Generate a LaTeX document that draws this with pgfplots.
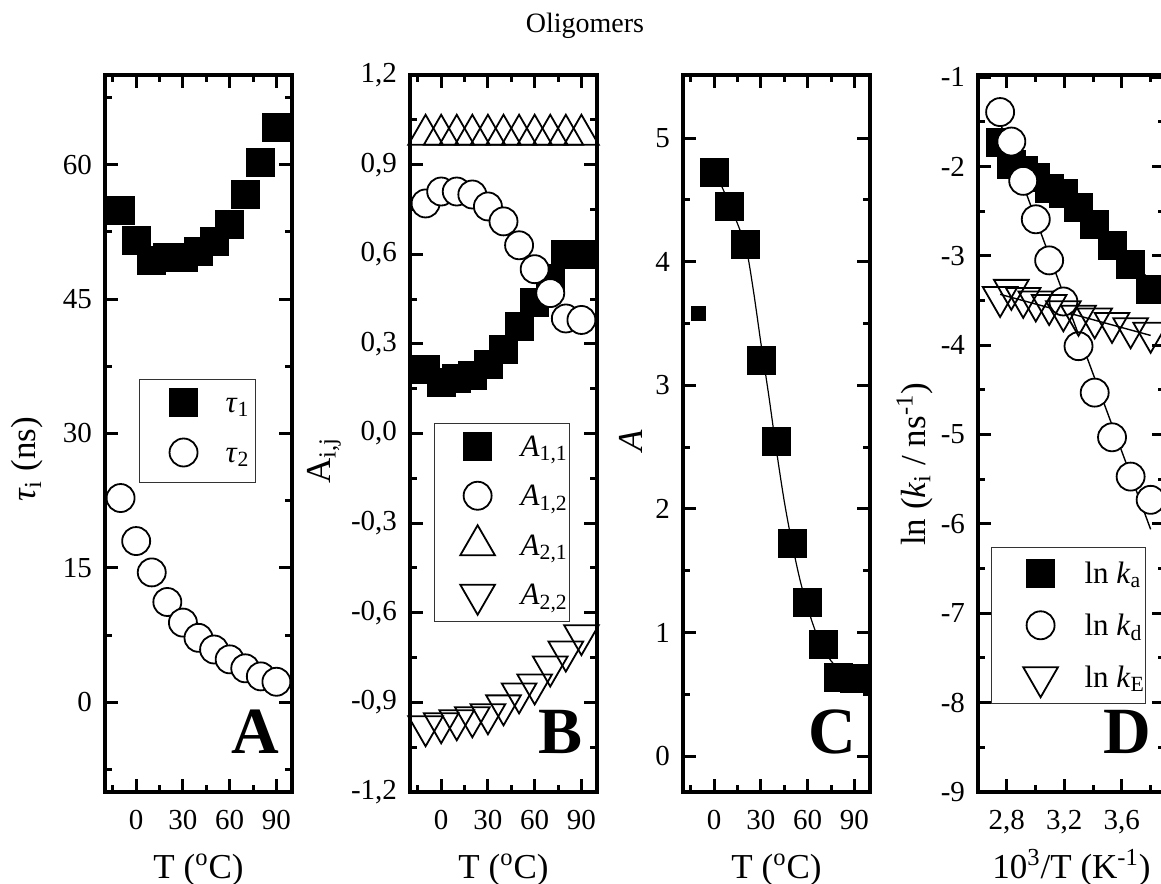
\documentclass[border=0pt]{standalone}
\usepackage{fontspec}
\setmainfont{Liberation Serif}
\usepackage{pgfplots}
\pgfplotsset{compat=1.18}
\tikzset{bigletter/.style={anchor=base east, inner sep=0pt, font=\fontsize{33}{33}\selectfont\bfseries}}
\pgfplotsset{
  panel/.style={
    scale only axis, width=93.5pt, height=358.5pt,
    anchor=south west,
    axis line style={line width=2pt},
    every tick/.style={black, line width=1.5pt},
    major tick length=6.5pt, minor tick length=3.5pt,
    tick align=inside,
    axis on top,
    /pgf/number format/assume math mode=true,
    ticklabel style={font=\fontsize{14.5}{14.5}\selectfont},
    xticklabel shift=5.5pt, yticklabel shift=3pt,
    label style={font=\fontsize{17.5}{17.5}\selectfont},
    xlabel style={at={(axis description cs:0.5,-0.12)}, anchor=base},
    xmin=-20, xmax=100,
    legend style={draw=black!80, line width=0.5pt, fill=white,
      inner xsep=0pt, row sep=0pt, column sep=0pt,
      cells={anchor=base west},
      font=\fontsize{15.5}{15.5}\selectfont},
  },
  sq/.style={only marks, mark=square*, mark size=7pt, black},
  ci/.style={only marks, mark=*, mark size=7pt, black, line width=0.9pt, mark options={fill=white}},
  tu/.style={only marks, mark=triangle, mark size=10pt, black, line width=0.9pt, mark options={fill=white}},
  td/.style={only marks, mark=triangle, mark size=10pt, black, line width=0.9pt, mark options={fill=white, rotate=180}},
}
\begin{document}
\begin{tikzpicture}
\begin{scope}
\clip (0,0) rectangle (580.5pt,441.5pt);
% ---------------- Panel A
\begin{axis}[panel, at={(52.5pt,45.5pt)},
  ymin=-10, ymax=70,
  xtick={0,30,60,90}, minor xtick={-15,15,45,75},
  ytick={0,15,30,45,60}, minor ytick={-7.5,7.5,22.5,37.5,52.5,67.5},
  xlabel={T (\textsuperscript{o}C)},
  ylabel={\textit{τ}\textsubscript{i} (ns)},
  ylabel style={at={(axis description cs:-0.414,0.464)}, anchor=center},
  legend style={at={(axis description cs:0.182,0.576)}, anchor=north west, inner ysep=0.75pt,
    nodes={inner xsep=3pt, inner ysep=0pt, text height=15.75pt, text depth=9.25pt}},
  legend image code/.code={\path[draw=none,fill=none] (0pt,-9.25pt) rectangle (40pt,15.75pt); \draw[mark repeat=1,#1] plot coordinates {(22pt,5pt)};},
]
\addplot[sq] coordinates {(-10,54.9) (0,51.5) (10,49.3) (20,49.6) (30,49.6) (40,50.3) (50,51.45) (60,53.3) (70,56.7) (80,60.2) (90,64.1)};
\addlegendentry{\textit{τ}\textsubscript{1}}
\addplot[ci] coordinates {(-10,22.8) (0,18.0) (10,14.5) (20,11.2) (30,8.9) (40,7.2) (50,5.9) (60,4.8) (70,3.8) (80,2.9) (90,2.3)};
\addlegendentry{\textit{τ}\textsubscript{2}}
\node[bigletter] at (rel axis cs:0.936,0.054) {A};
\end{axis}
% ---------------- Panel B
\begin{axis}[panel, at={(205pt,45.5pt)},
  ymin=-1.2, ymax=1.2,
  xtick={0,30,60,90}, minor xtick={-15,15,45,75},
  ytick={-1.2,-0.9,-0.6,-0.3,0,0.3,0.6,0.9,1.2},
  yticklabels={{-1,2},{-0,9},{-0,6},{-0,3},{0,0},{0,3},{0,6},{0,9},{1,2}},
  minor ytick={-1.05,-0.75,-0.45,-0.15,0.15,0.45,0.75,1.05},
  xlabel={T (\textsuperscript{o}C)},
  ylabel={A\textsubscript{i,j}},
  ylabel style={at={(axis description cs:-0.46,0.462)}, anchor=center},
  legend style={at={(axis description cs:0.129,0.515)}, anchor=north west, inner ysep=0pt,
    nodes={inner xsep=1pt, inner ysep=0pt, text height=16.5pt, text depth=8.25pt}},
  legend image code/.code={\path[draw=none,fill=none] (0pt,-8.25pt) rectangle (42pt,16.5pt); \draw[mark repeat=1,#1] plot coordinates {(21.5pt,5pt)};},
]
\addplot[sq] coordinates {(-10,0.215) (0,0.17) (10,0.185) (20,0.195) (30,0.23) (40,0.28) (50,0.36) (60,0.44) (70,0.52) (80,0.60) (90,0.60)};
\addlegendentry{\textit{A}\textsubscript{1,1}}
\addplot[ci] coordinates {(-10,0.77) (0,0.81) (10,0.81) (20,0.80) (30,0.76) (40,0.71) (50,0.63) (60,0.55) (70,0.47) (80,0.385) (90,0.38)};
\addlegendentry{\textit{A}\textsubscript{1,2}}
\addplot[tu] coordinates {(-10,1.0) (0,1.0) (10,1.0) (20,1.0) (30,1.0) (40,1.0) (50,1.0) (60,1.0) (70,1.0) (80,1.0) (90,1.0)};
\addlegendentry{\textit{A}\textsubscript{2,1}}
\addplot[td] coordinates {(-10,-0.98) (0,-0.97) (10,-0.96) (20,-0.95) (30,-0.94) (40,-0.91) (50,-0.87) (60,-0.84) (70,-0.78) (80,-0.73) (90,-0.675)};
\addlegendentry{\textit{A}\textsubscript{2,2}}
\node[bigletter] at (rel axis cs:0.925,0.054) {B};
\end{axis}
% ---------------- Panel C
\begin{axis}[panel, at={(341.5pt,45.5pt)},
  ymin=-0.29, ymax=5.51,
  xtick={0,30,60,90}, minor xtick={-15,15,45,75},
  ytick={0,1,2,3,4,5}, minor ytick={0.5,1.5,2.5,3.5,4.5},
  xlabel={T (\textsuperscript{o}C)},
  ylabel={\textit{A}},
  ylabel style={at={(axis description cs:-0.277,0.49)}, anchor=center},
]
\addplot[black, line width=0.6pt, smooth] coordinates {(3,4.66) (10,4.46) (20,4.13) (25,3.78) (30,3.34) (35,2.92) (40,2.47) (45,2.06) (50,1.72) (55,1.43) (60,1.2) (65,1.01) (70,0.87) (75,0.77) (78,0.73)};
\addplot[sq] coordinates {(0,4.72) (10,4.45) (20,4.14) (30,3.20) (40,2.545) (50,1.72) (60,1.245) (70,0.90) (80,0.64) (90,0.63)};
\addplot[only marks, mark=square*, mark size=3.5pt, black] coordinates {(-10,3.58)};
\node[bigletter] at (rel axis cs:0.926,0.054) {C};
\end{axis}
% ---------------- Panel D
\begin{axis}[panel, at={(489pt,45.5pt)},
  xmin=2.6, xmax=3.9, ymin=-9, ymax=-0.975,
  xtick={2.8,3.2,3.6}, xticklabels={{2,8},{3,2},{3,6}}, minor xtick={3.0,3.4,3.8},
  ytick={-9,-8,-7,-6,-5,-4,-3,-2,-1}, yticklabels={-9,-8,-7,-6,-5,-4,-3,-2,-1},
  minor ytick={-8.5,-7.5,-6.5,-5.5,-4.5,-3.5,-2.5,-1.5},
  xlabel={10\textsuperscript{3}/T (K\textsuperscript{-1})},
  ylabel={ln (\textit{k}\textsubscript{i} / ns\textsuperscript{-1})},
  ylabel style={at={(axis description cs:-0.34,0.457)}, anchor=center},
  legend style={at={(axis description cs:0.07,0.342)}, anchor=north west, inner ysep=0pt,
    nodes={inner xsep=0.5pt, inner ysep=0pt, text height=18pt, text depth=8pt}},
  legend image code/.code={\path[draw=none,fill=none] (0pt,-8pt) rectangle (46pt,18pt); \draw[mark repeat=1,#1] plot coordinates {(24.5pt,5pt)};},
]
\addplot[sq] coordinates {(2.7537,-1.73) (2.8317,-1.98) (2.9142,-2.04) (3.0017,-2.12) (3.0945,-2.24) (3.1934,-2.30) (3.2987,-2.46) (3.4112,-2.65) (3.5317,-2.88) (3.6610,-3.09) (3.8001,-3.38)};
\addlegendentry{ln \textit{k}\textsubscript{a}}
\addplot[ci] coordinates {(2.7537,-1.39) (2.8317,-1.72) (2.9142,-2.16) (3.0017,-2.59) (3.0945,-3.05) (3.1934,-3.51) (3.2987,-4.01) (3.4112,-4.53) (3.5317,-5.03) (3.6610,-5.47) (3.8001,-5.73)};
\addlegendentry{ln \textit{k}\textsubscript{d}}
\addplot[td] coordinates {(2.7537,-3.46) (2.8317,-3.38) (2.9142,-3.47) (3.0017,-3.51) (3.0945,-3.55) (3.1934,-3.62) (3.2987,-3.67) (3.4112,-3.70) (3.5317,-3.75) (3.6610,-3.81) (3.8001,-3.86)};
\addlegendentry{ln \textit{k}\textsubscript{E}}
\addplot[black, line width=0.7pt, forget plot] coordinates {(2.7537,-1.735) (3.8001,-3.27)};
\addplot[black, line width=0.7pt, forget plot] coordinates {(2.7537,-1.51) (3.8001,-6.06)};
\addplot[black, line width=0.7pt, forget plot] coordinates {(2.7537,-3.43) (3.8001,-3.89)};
\node[bigletter] at (rel axis cs:0.93,0.054) {D};
\end{axis}
\end{scope}
\node[anchor=base, font=\fontsize{14}{14}\selectfont] at (292.5pt,425pt) {Oligomers};
\pgfresetboundingbox
\path[use as bounding box] (0,0) rectangle (580.5pt,441.5pt);
\end{tikzpicture}
\end{document}
